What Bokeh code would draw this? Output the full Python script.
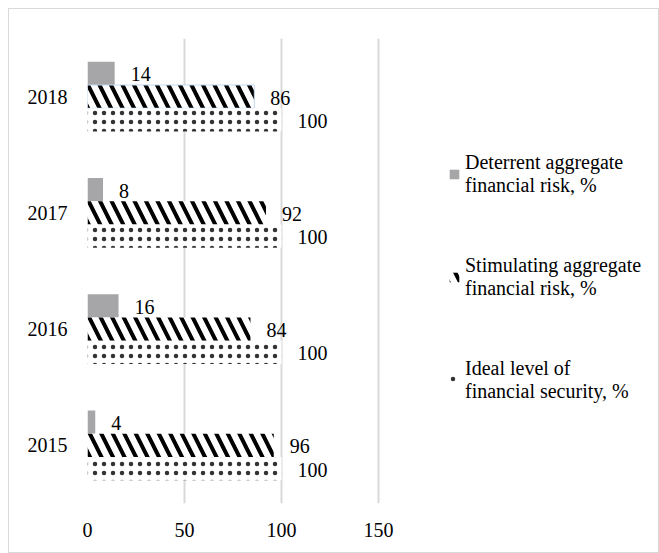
from bokeh.plotting import figure
from bokeh.models import ColumnDataSource, FactorRange, Legend, LegendItem, FixedTicker, Range1d
from bokeh.transform import dodge
from bokeh.core.properties import value
from bokeh.embed import file_html
from bokeh.resources import INLINE

years = ["2015", "2016", "2017", "2018"]
deterrent = [4, 16, 8, 14]
stimulating = [96, 84, 92, 86]
ideal = [100, 100, 100, 100]
x_ticks = [0, 50, 100, 150]
names = ["Deterrent aggregate\nfinancial risk, %",
         "Stimulating aggregate\nfinancial risk, %",
         "Ideal level of\nfinancial security, %"]

src = ColumnDataSource(dict(year=years, det=deterrent, stim=stimulating, ideal=ideal,
                            det_t=[str(v) for v in deterrent],
                            stim_t=[str(v) for v in stimulating],
                            ideal_t=[str(v) for v in ideal],
                            stim_line=[0, 0, 0, 1]))

FONT = "Liberation Serif"
FRAME_W = 570
X_MAX = 150 * FRAME_W / 291  # extend frame to the right so the legend sits inside it

p = figure(frame_width=FRAME_W, frame_height=465, y_range=FactorRange(*years),
           x_range=Range1d(0, X_MAX),
           output_backend="svg", toolbar_location=None,
           min_border_left=78, min_border_right=1, min_border_top=29, min_border_bottom=49)
p.styles = {"border": "1px solid #d9d9d9", "margin-left": "8px", "margin-top": "8px"}
p.outline_line_color = None

r_det = p.hbar(y=dodge("year", 0.2, range=p.y_range), left=0, right="det", height=0.2,
               source=src, fill_color="#a6a6a8", line_color=None)
r_stim = p.hbar(y=dodge("year", 0.0, range=p.y_range), left=0, right="stim", height=0.2,
                source=src, fill_color="white", line_color="#c5d9f1", line_alpha="stim_line",
                line_width=1,
                hatch_pattern="\\", hatch_color="black", hatch_scale=23, hatch_weight=4)
r_ideal = p.hbar(y=dodge("year", -0.2, range=p.y_range), left=0, right="ideal", height=0.2,
                 source=src, fill_color="white", line_color=None,
                 hatch_pattern=".", hatch_color="black", hatch_scale=9, hatch_weight=0.2,
                 hatch_alpha=0.8)

for col, off in (("det", 0.2), ("stim", 0.0), ("ideal", -0.2)):
    p.text(x=col, y=dodge("year", off, range=p.y_range), text=col + "_t", source=src,
           x_offset=16, y_offset=1, text_baseline="middle", text_align="left",
           text_font=value(FONT), text_font_size="20px", text_color="black")

p.xaxis.ticker = FixedTicker(ticks=x_ticks)
p.xaxis.axis_line_color = None
p.xaxis.major_tick_line_color = None
p.xaxis.minor_tick_line_color = None
p.xaxis.major_tick_out = 0
p.xaxis.major_label_standoff = 19
p.yaxis.axis_line_color = None
p.yaxis.major_tick_line_color = None
p.yaxis.major_tick_out = 0
p.yaxis.major_label_standoff = 20
for ax in (p.xaxis, p.yaxis):
    ax.major_label_text_font = FONT
    ax.major_label_text_font_size = "20px"
    ax.major_label_text_color = "black"

p.ygrid.grid_line_color = None
p.xgrid.grid_line_color = "#d9d9d9"
p.xgrid.grid_line_width = 2

legend = Legend(items=[LegendItem(label=names[0], renderers=[r_det]),
                       LegendItem(label=names[1], renderers=[r_stim]),
                       LegendItem(label=names[2], renderers=[r_ideal])],
                location=(361, 100), border_line_color=None, background_fill_alpha=0,
                label_text_font=FONT, label_text_font_size="20px", label_text_line_height=1.1,
                label_text_color="black",
                glyph_width=12, glyph_height=12, label_standoff=5, spacing=57, padding=10,
                margin=0)
p.add_layout(legend)

open("out.html", "w").write(file_html(p, INLINE))
